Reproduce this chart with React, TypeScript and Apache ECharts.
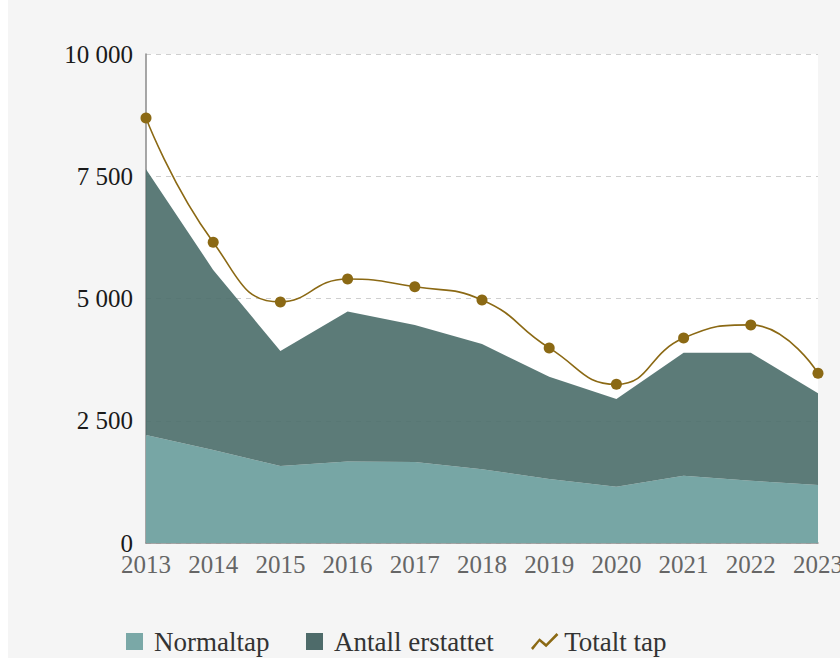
import React, { useEffect, useRef } from "react";
import * as echarts from "echarts";

const years = ["2013", "2014", "2015", "2016", "2017", "2018", "2019", "2020", "2021", "2022", "2023"];
const normaltap = [2210, 1900, 1575, 1665, 1655, 1510, 1310, 1150, 1375, 1275, 1185];
const antallErstattet = [5435, 3685, 2350, 3070, 2805, 2560, 2090, 1795, 2515, 2615, 1875];
const totaltTap = [8690, 6150, 4930, 5400, 5240, 4970, 3990, 3245, 4190, 4460, 3470];
const seriesNames = ["Normaltap", "Antall erstattet", "Totalt tap"];

const FONT = "'Liberation Serif', 'DejaVu Serif', serif";

const fmt = (v: number) => {
  const s = String(Math.round(v));
  return s.replace(/\B(?=(\d{3})+(?!\d))/g, " ");
};

const squareIcon = "path://M0,0 L10,0 L10,10 L0,10 Z";
const lineIcon = "path://M0,16 L9,5.5 L16,11.5 L27,0 L29,2 L16,15 L9,9 L2,18 Z";

export default function App() {
  const ref = useRef<HTMLDivElement>(null);
  useEffect(() => {
    if (!ref.current) return;
    const chart = echarts.init(ref.current, undefined, { renderer: "svg" });
    const legendBase = {
      top: 653,
      itemWidth: 29,
      itemHeight: 17,
      itemGap: 0,
      symbolKeepAspect: true,
      textStyle: { fontFamily: FONT, fontSize: 27, color: "#333" },
    };
    chart.setOption({
      animation: false,
      backgroundColor: "#f5f5f5",
      textStyle: { fontFamily: FONT },
      grid: {
        left: 138,
        right: 30,
        top: 84,
        bottom: 145,
        show: true,
        backgroundColor: "#ffffff",
        borderWidth: 0,
        outerBoundsMode: "none",
        containLabel: false,
      },
      legend: [
        { ...legendBase, left: 113, data: [{ name: seriesNames[0], icon: squareIcon }] },
        { ...legendBase, left: 293, data: [{ name: seriesNames[1], icon: squareIcon }] },
        { ...legendBase, left: 518, data: [{ name: seriesNames[2], icon: lineIcon }] },
      ],
      xAxis: {
        type: "category",
        data: years,
        boundaryGap: false,
        axisLine: { show: true, lineStyle: { color: "#8a8a8a", width: 1.5 } },
        axisTick: { show: false },
        axisLabel: { color: "#666", fontSize: 25, fontFamily: FONT, margin: 9, interval: 0 },
      },
      yAxis: {
        type: "value",
        min: 0,
        max: 10000,
        interval: 2500,
        axisLine: { show: true, lineStyle: { color: "#8a8a8a", width: 1.5 } },
        axisTick: { show: false },
        axisLabel: { color: "#1a1a1a", fontSize: 25, fontFamily: FONT, margin: 13, formatter: fmt },
        splitLine: { show: true, lineStyle: { color: "#cfcfcf", type: [5, 5], width: 1.2 } },
      },
      series: [
        {
          name: seriesNames[0],
          type: "line",
          stack: "tap",
          data: normaltap,
          symbol: "none",
          lineStyle: { width: 0 },
          itemStyle: { color: "#7aa8a7" },
          areaStyle: { color: "#77a6a5", opacity: 1 },
          z: 2,
        },
        {
          name: seriesNames[1],
          type: "line",
          stack: "tap",
          data: antallErstattet,
          symbol: "none",
          lineStyle: { width: 0 },
          itemStyle: { color: "#4e6b6a" },
          areaStyle: { color: "rgba(78,112,109,0.92)", opacity: 1 },
          z: 2,
        },
        {
          name: seriesNames[2],
          type: "line",
          data: totaltTap,
          smooth: true,
          symbol: "circle",
          symbolSize: 11,
          showSymbol: true,
          lineStyle: { color: "#8b6914", width: 1.6 },
          itemStyle: { color: "#8b6914" },
          z: 5,
        },
      ],
    });
    return () => chart.dispose();
  }, []);
  return (
    <div style={{ position: "fixed", left: 0, top: 0, width: 840, height: 658, overflow: "hidden", background: "#fff" }}>
      <div
        ref={ref}
        style={{ position: "absolute", left: 8, top: -30, width: 840, height: 718 }}
      />
    </div>
  );
}
